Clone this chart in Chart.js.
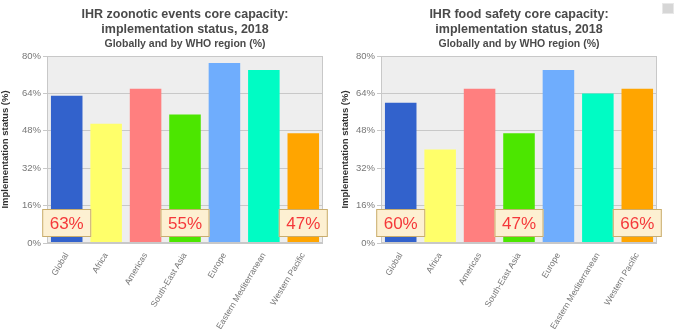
<!DOCTYPE html>
<html><head><meta charset="utf-8">
<script src="https://cdn.jsdelivr.net/npm/chart.js@4/dist/chart.umd.min.js"></script>
<style>
html,body{margin:0;padding:0;background:#fff;width:678px;height:329px;overflow:hidden}
.wrap{position:absolute;top:0;height:329px}
#w1{left:0;width:339px}
#w2{left:340px;width:338px}
#icon{position:absolute;left:662px;top:3px;width:10px;height:9px;background:#d6d6d6;border:1px solid #e8e8e8}
</style></head><body>
<div class="wrap" id="w1"><canvas id="c1"></canvas></div>
<div class="wrap" id="w2"><canvas id="c2"></canvas></div>
<div id="icon"></div>
<script>
const categories = ["Global","Africa","Americas","South-East Asia","Europe","Eastern Mediterranean","Western Pacific"];
const zoonoticValues = [63,51,66,55,77,74,47];
const foodSafetyValues = [60,40,66,47,74,64,66];
const barColors = ["#3262cc","#ffff6a","#ff7f7f","#4ce600","#6fadfd","#00fcc4","#ffa500"];
const yTicks = [0,16,32,48,64,80];
const calloutIndices = [0,3,6];
const titles1 = ["IHR zoonotic events core capacity:","implementation status, 2018","Globally and by WHO region (%)"];
const titles2 = ["IHR food safety core capacity:","implementation status, 2018","Globally and by WHO region (%)"];
const yTitle = "Implementation status (%)";

const FONT = "'Liberation Sans', Arial, sans-serif";

const decor = {
  id:'decor',
  beforeDraw(chart){
    const {ctx, chartArea:a} = chart;
    ctx.save();
    ctx.fillStyle = '#eeeeee';
    ctx.fillRect(a.left, a.top, a.right-a.left, a.bottom-a.top);
    ctx.restore();
  },
  afterDatasetsDraw(chart){
    const {ctx, chartArea:a} = chart;
    ctx.save();
    ctx.strokeStyle = '#c8c8c8';
    ctx.lineWidth = 1;
    ctx.strokeRect(a.left+0.5, a.top+0.5, a.right-a.left-1, a.bottom-a.top-1);
    const xs = chart.scales.x, ys = chart.scales.y;
    const data = chart.data.datasets[0].data;
    calloutIndices.forEach(i=>{
      const cx = xs.getPixelForValue(i);
      const cy = ys.getPixelForValue(0) - 20;
      const w = 49, h = 28;
      ctx.fillStyle = '#fdf0d2';
      ctx.fillRect(cx-w/2, cy-h/2, w, h);
      ctx.strokeStyle = '#c9ad6e';
      ctx.strokeRect(cx-w/2+0.5, cy-h/2+0.5, w-1, h-1);
      ctx.fillStyle = '#f5383a';
      ctx.font = '17px ' + FONT;
      ctx.textAlign = 'center';
      ctx.textBaseline = 'middle';
      ctx.fillText(Math.round(data[i]) + '%', cx, cy+1);
    });
    const t = chart.options.plugins.myTitles;
    const mx = (a.left + a.right)/2;
    ctx.fillStyle = '#4a4a4a';
    ctx.textAlign = 'center';
    ctx.textBaseline = 'middle';
    ctx.font = 'bold 12.5px ' + FONT;
    ctx.fillText(t[0], mx, 15);
    ctx.fillText(t[1], mx, 30);
    ctx.font = 'bold 10.5px ' + FONT;
    ctx.fillText(t[2], mx, 44);
    ctx.restore();
  }
};

function makeChart(id, values, ttl, yWidth, padRight){
  return new Chart(document.getElementById(id), {
    type:'bar',
    data:{labels:categories, datasets:[{data:values, backgroundColor:barColors, borderWidth:0, barPercentage:0.8, categoryPercentage:1}]},
    options:{
      responsive:true, maintainAspectRatio:false, animation:false,
      layout:{padding:{top:56, right:padRight, left:0, bottom:0}},
      plugins:{legend:{display:false}, tooltip:{enabled:false}, title:{display:false}, myTitles:ttl},
      scales:{
        y:{min:0,max:80,
          afterBuildTicks(s){ s.ticks = yTicks.map(v=>({value:v})); },
          afterFit(s){ s.width = yWidth; },
          ticks:{callback:v=>v+'%', color:'#777', font:{size:9.5, family:FONT}, padding:2},
          grid:{color:'#c8c8c8', tickLength:4, drawOnChartArea:true},
          border:{display:false},
          title:{display:true, text:yTitle, color:'#333', font:{size:9.5, weight:'bold', family:FONT}, padding:{top:0,bottom:2}}
        },
        x:{
          afterFit(s){ s.height = 86; },
          ticks:{minRotation:59, maxRotation:59, color:'#777', font:{size:8.6, family:FONT}, padding:0},
          grid:{display:false},
          border:{display:false}
        }
      }
    },
    plugins:[decor]
  });
}
makeChart('c1', zoonoticValues, titles1, 47, 16);
makeChart('c2', foodSafetyValues, titles2, 41, 21);
</script>
</body></html>
